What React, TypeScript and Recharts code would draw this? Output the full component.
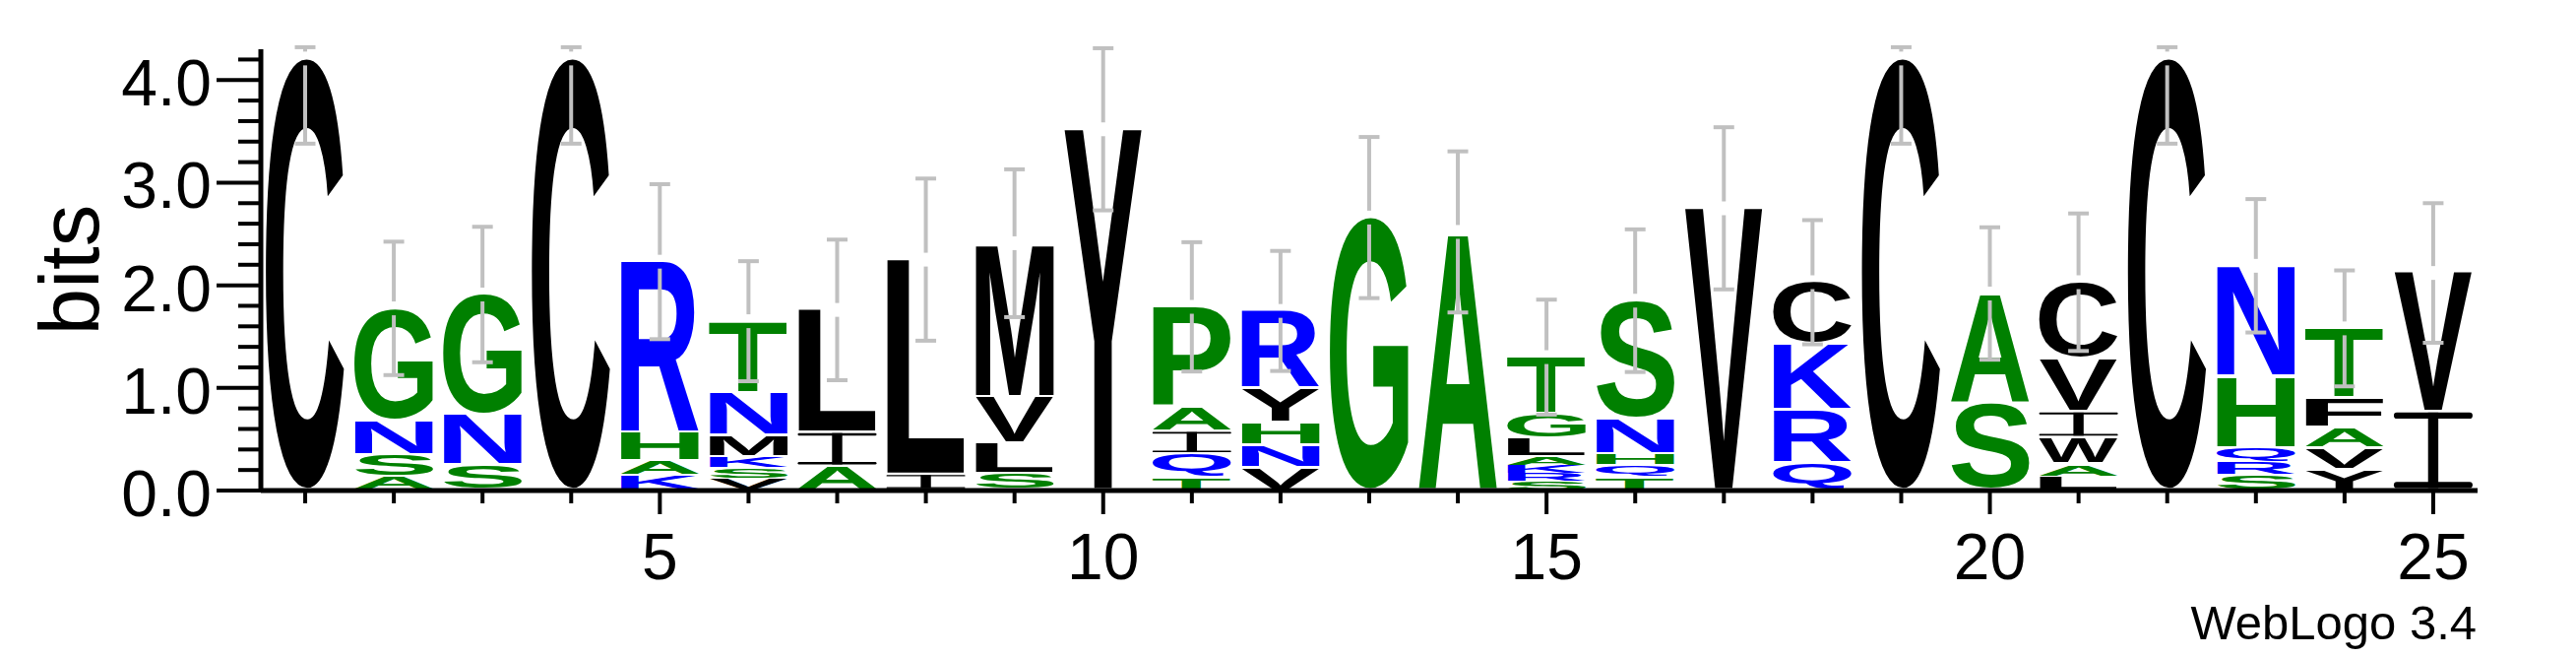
import { BarChart, Bar, XAxis, YAxis } from 'recharts'

const positions = [1, 2, 3, 4, 5, 6, 7, 8, 9, 10, 11, 12, 13, 14, 15, 16, 17, 18, 19, 20, 21, 22, 23, 24, 25]

// letters of each stack, bottom to top
const stackLetters = [
  'C', 'ASNG', 'SNG', 'C', 'KAHR', 'VSKMNT', 'AIL', 'IL', 'SLVM', 'Y',
  'TQIAP', 'VNHYR', 'G', 'A', 'SRKALGT', 'TQHNS', 'V', 'QRKC', 'C', 'SA',
  'LAWIVC', 'C', 'SRQHN', 'YVAFT', 'IV',
]

// height of each letter in bits, same order as above
const stackBits = [
  [4.21],
  [0.125, 0.22, 0.34, 1.09],
  [0.24, 0.5, 1.17],
  [4.21],
  [0.14, 0.14, 0.28, 1.67],
  [0.11, 0.1, 0.11, 0.21, 0.42, 0.7],
  [0.23, 0.33, 1.2],
  [0.15, 2.1],
  [0.16, 0.3, 0.45, 1.5],
  [3.52],
  [0.12, 0.23, 0.22, 0.23, 0.99],
  [0.22, 0.22, 0.22, 0.33, 0.76],
  [2.66],
  [2.52],
  [0.08, 0.08, 0.08, 0.08, 0.18, 0.24, 0.56],
  [0.12, 0.12, 0.11, 0.35, 1.15],
  [2.75],
  [0.26, 0.52, 0.65, 0.6],
  [4.21],
  [0.85, 1.07],
  [0.13, 0.12, 0.26, 0.25, 0.52, 0.75],
  [4.21],
  [0.14, 0.13, 0.14, 0.7, 1.08],
  [0.2, 0.21, 0.2, 0.29, 0.68],
  [0.76, 1.36],
]

// half-length of the error bar at each position (bits)
const errorBits = [
  0.83, 0.65, 0.66, 0.83, 0.755, 0.585, 0.685, 0.79, 0.72, 0.79,
  0.63, 0.585, 0.785, 0.785, 0.56, 0.695, 0.79, 0.605, 0.83, 0.645,
  0.67, 0.83, 0.65, 0.565, 0.68,
]

const yTicks = [0, 0.2, 0.4, 0.6, 0.8, 1, 1.2, 1.4, 1.6, 1.8, 2, 2.2, 2.4, 2.6, 2.8, 3, 3.2, 3.4, 3.6, 3.8, 4, 4.2]
const maxBits = 4.32

const GREEN = '#008000'
const BLUE = '#0000ff'
const BLACK = '#000000'
const letterColors: Record<string, string> = {
  G: GREEN, S: GREEN, A: GREEN, H: GREEN, T: GREEN, P: GREEN,
  N: BLUE, R: BLUE, K: BLUE, Q: BLUE,
}

const SANS = '"Liberation Sans", Arial, sans-serif'
const SLOTS = 7

const data = positions.map((pos, i) => {
  const row: any = {
    pos,
    letters: stackLetters[i],
    bits: stackBits[i],
    err: errorBits[i],
    top: stackBits[i].reduce((a, b) => a + b, 0),
  }
  for (let k = 0; k < SLOTS; k++) row['s' + k] = stackBits[i][k]
  return row
})

// ink bounds of a glyph, measured once with a canvas
const inkCache: Record<string, { l: number; r: number; a: number; d: number }> = {}
function ink(ch: string) {
  if (!inkCache[ch]) {
    const ctx = document.createElement('canvas').getContext('2d')!
    ctx.font = `bold 100px ${SANS}`
    const m = ctx.measureText(ch)
    inkCache[ch] = {
      l: m.actualBoundingBoxLeft,
      r: m.actualBoundingBoxRight,
      a: m.actualBoundingBoxAscent,
      d: m.actualBoundingBoxDescent,
    }
  }
  return inkCache[ch]
}

// WebLogo's I has serifs, so draw it by hand instead of stretching a font glyph
function SerifI({ x, y, w, h, fill }: any) {
  const bar = Math.max(1.2, h * 0.08)
  const stem = w * 0.13
  const cx = x + w / 2
  return (
    <g fill={fill}>
      <rect x={x} y={y} width={w} height={bar} rx={bar / 2} />
      <rect x={cx - stem / 2} y={y} width={stem} height={h} />
      <rect x={x} y={y + h - bar} width={w} height={bar} rx={bar / 2} />
    </g>
  )
}

function LetterShape(props: any) {
  const { x, y, width, height, payload, slot } = props
  const ch = payload?.letters?.[slot]
  if (!ch || !(height > 0)) return null

  const pad = Math.min(2.5, height * 0.15)
  const h = height - pad
  const fill = letterColors[ch] || BLACK

  let glyph
  if (ch === 'I') {
    glyph = <SerifI x={x} y={y} w={width} h={h} fill={fill} />
  } else {
    const b = ink(ch)
    const sx = width / (b.l + b.r)
    const sy = h / (b.a + b.d)
    glyph = (
      <text
        x={0}
        y={0}
        fontFamily={SANS}
        fontWeight="bold"
        fontSize={100}
        fill={fill}
        transform={`translate(${x + b.l * sx}, ${y + b.a * sy}) scale(${sx}, ${sy})`}
      >
        {ch}
      </text>
    )
  }

  const isTop = slot === payload.letters.length - 1
  let errorMark = null
  if (isTop) {
    const ppb = height / payload.bits[slot]
    const up = Math.min(payload.err, maxBits - payload.top) * ppb
    const down = payload.err * ppb
    const cx = x + width / 2
    const gap = 7
    errorMark = (
      <g stroke="#c0c0c0" strokeWidth={4}>
        <line x1={cx} x2={cx} y1={y - up} y2={y - gap} />
        <line x1={cx} x2={cx} y1={y + gap} y2={y + down} />
        <line x1={cx - 10.5} x2={cx + 10.5} y1={y - up} y2={y - up} />
        <line x1={cx - 10.5} x2={cx + 10.5} y1={y + down} y2={y + down} />
      </g>
    )
  }

  return (
    <g>
      {glyph}
      {errorMark}
    </g>
  )
}

function YTick({ x, y, payload }: any) {
  const v = payload.value
  const major = Math.abs(v - Math.round(v)) < 1e-6
  return (
    <g>
      <line x1={x - (major ? 45 : 23)} x2={x} y1={y} y2={y} stroke="#000" strokeWidth={4} />
      {major && (
        <text x={x - 50} y={y + 26} textAnchor="end" fontSize={66} fontFamily={SANS} fill="#000">
          {v.toFixed(1)}
        </text>
      )}
    </g>
  )
}

function XTick({ x, y, payload }: any) {
  const v = payload.value
  const major = v % 5 === 0
  return (
    <g>
      <line x1={x} x2={x} y1={y} y2={y + (major ? 24 : 13)} stroke="#000" strokeWidth={4} />
      {major && (
        <text x={x} y={y + 90} textAnchor="middle" fontSize={66} fontFamily={SANS} fill="#000">
          {v}
        </text>
      )}
    </g>
  )
}

function BitsLabel({ viewBox }: any) {
  const x = viewBox.x - 5
  const y = viewBox.y + viewBox.height / 2
  return (
    <text x={x} y={y} transform={`rotate(-90, ${x}, ${y})`} textAnchor="middle" fontSize={85} fontFamily={SANS} fill="#000">
      bits
    </text>
  )
}

function CreditLabel({ viewBox }: any) {
  return (
    <text x={viewBox.x + viewBox.width - 1} y={viewBox.y + 151} textAnchor="end" fontSize={49} fontFamily={SANS} fill="#000">
      WebLogo 3.4
    </text>
  )
}

export default function App() {
  return (
    <div style={{ position: 'absolute', left: 0, top: 0, width: 2617, height: 667, background: '#fff' }}>
      <BarChart width={2617} height={667} data={data} margin={{ top: 50, right: 100, bottom: 49, left: 105 }} barSize={80}>
        <XAxis
          dataKey="pos"
          height={120}
          interval={0}
          tickLine={false}
          tickSize={0}
          tickMargin={0}
          tick={<XTick />}
          axisLine={{ stroke: '#000', strokeWidth: 5 }}
          label={<CreditLabel />}
        />
        <YAxis
          type="number"
          domain={[0, 4.3]}
          ticks={yTicks}
          interval={0}
          width={160}
          tickLine={false}
          tickSize={0}
          tickMargin={0}
          tick={<YTick />}
          axisLine={{ stroke: '#000', strokeWidth: 5 }}
          label={<BitsLabel />}
        />
        {Array.from({ length: SLOTS }, (_, k) => (
          <Bar
            key={k}
            dataKey={'s' + k}
            stackId="logo"
            isAnimationActive={false}
            shape={(p: any) => <LetterShape {...p} slot={k} />}
          />
        ))}
      </BarChart>
    </div>
  )
}
